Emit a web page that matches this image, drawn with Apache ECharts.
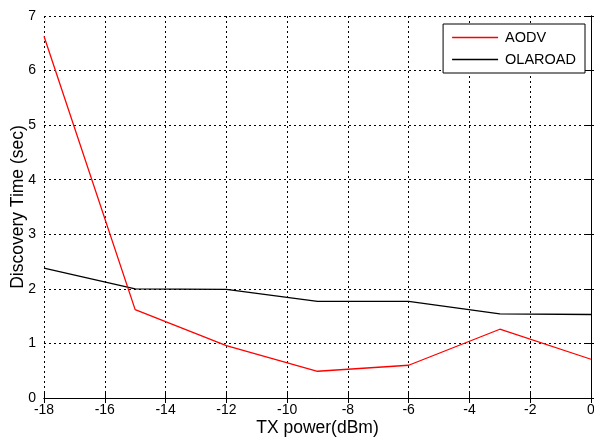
<!DOCTYPE html>
<html><head><meta charset="utf-8">
<script src="https://cdn.jsdelivr.net/npm/echarts@6/dist/echarts.min.js"></script>
<style>html,body{margin:0;padding:0;background:#fff}#c{width:594px;height:441px}</style>
</head><body><div id="c"></div>
<script>
const txPower = [-18, -15, -12, -9, -6, -3, 0];
const aodv = [6.63, 1.62, 0.96, 0.49, 0.6, 1.26, 0.71];
const olaroad = [2.38, 2.0, 1.99, 1.77, 1.77, 1.54, 1.53];
const seriesNames = ['AODV', 'OLAROAD'];

const font = 'Liberation Sans, Arial, sans-serif';
const chart = echarts.init(document.getElementById('c'));
const grid = {left: 44, right: 3, top: 16, bottom: 43, containLabel: false, outerBoundsMode: 'none'};
chart.setOption({
  animation: false,
  backgroundColor: '#fff',
  grid: grid,
  legend: {
    right: 9, top: 24, orient: 'vertical',
    data: seriesNames,
    icon: 'rect', itemWidth: 46, itemHeight: 1.5, itemGap: 5,
    borderColor: '#000', borderWidth: 1, backgroundColor: '#fff',
    padding: [5, 9, 5, 9],
    textStyle: {fontFamily: font, fontSize: 14.5, color: '#000', padding: [0, 0, 0, 2], lineHeight: 17}
  },
  xAxis: [{
    type: 'value', min: -18, max: 0, interval: 2,
    name: 'TX power(dBm)', nameLocation: 'middle', nameGap: 21, nameMoveOverlap: false,
    nameTextStyle: {fontFamily: font, fontSize: 17.5, color: '#000'},
    axisLine: {lineStyle: {color: '#000', width: 1}},
    axisTick: {inside: true, length: 5, lineStyle: {color: '#000'}},
    axisLabel: {fontFamily: font, fontSize: 14, color: '#000', margin: 5},
    splitLine: {show: true, lineStyle: {color: '#000', type: [2, 3], width: 1}}
  }, {
    type: 'value', min: -18, max: 0, interval: 2, position: 'top',
    axisLine: {show: true, lineStyle: {color: '#000'}},
    axisTick: {inside: true, length: 5, lineStyle: {color: '#000'}},
    axisLabel: {show: false}, splitLine: {show: false}
  }],
  yAxis: [{
    type: 'value', min: 0, max: 7, interval: 1,
    name: 'Discovery Time (sec)', nameLocation: 'middle', nameGap: 17, nameMoveOverlap: false,
    nameTextStyle: {fontFamily: font, fontSize: 17.5, color: '#000'},
    axisLine: {show: true, lineStyle: {color: '#000', width: 1}},
    axisTick: {show: true, inside: true, length: 5, lineStyle: {color: '#000'}},
    axisLabel: {fontFamily: font, fontSize: 14, color: '#000', margin: 8},
    splitLine: {show: true, lineStyle: {color: '#000', type: [2, 3], width: 1}}
  }, {
    type: 'value', min: 0, max: 7, interval: 1, position: 'right',
    axisLine: {show: true, lineStyle: {color: '#000'}},
    axisTick: {show: true, inside: true, length: 5, lineStyle: {color: '#000'}},
    axisLabel: {show: false}, splitLine: {show: false}
  }],
  series: [{
    name: seriesNames[0], type: 'line', symbol: 'none',
    data: txPower.map((x, i) => [x, aodv[i]]),
    lineStyle: {color: '#ff0000', width: 1.3}, itemStyle: {color: '#ff0000'}, z: 3
  }, {
    name: seriesNames[1], type: 'line', symbol: 'none',
    data: txPower.map((x, i) => [x, olaroad[i]]),
    lineStyle: {color: '#000', width: 1.3}, itemStyle: {color: '#000'}, z: 2
  }]
});
</script></body></html>
